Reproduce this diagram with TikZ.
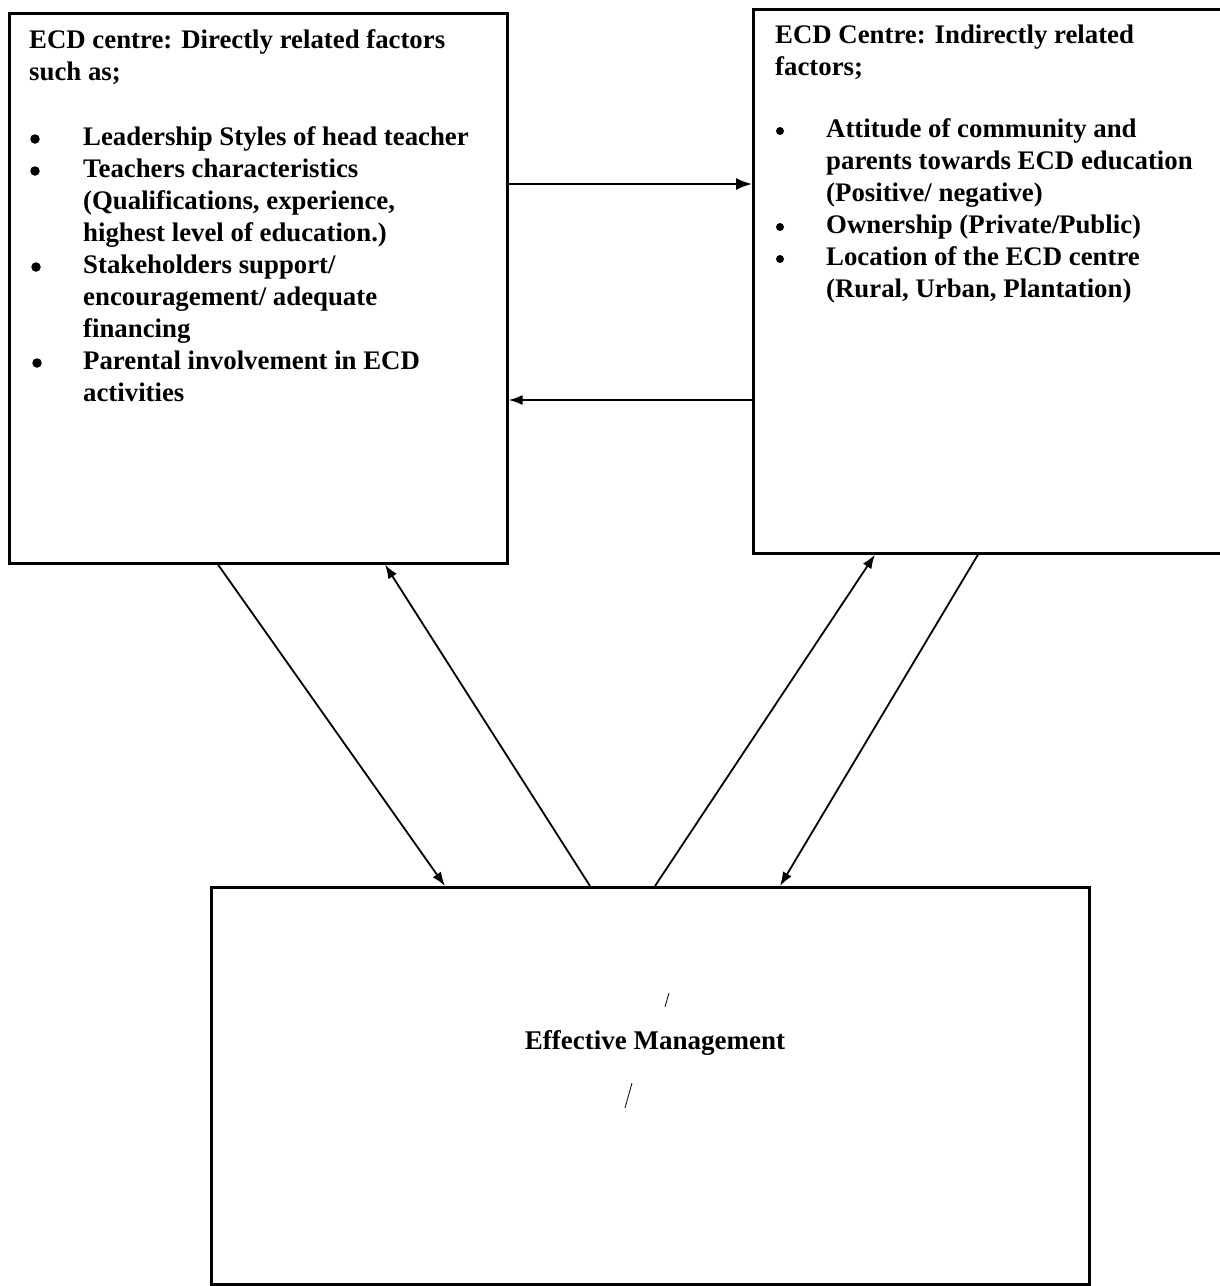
\documentclass[tikz,border=0pt]{standalone}
\usepackage{fontspec}
\setmainfont{Liberation Serif}
\usetikzlibrary{arrows.meta,calc}
\begin{document}
\begin{tikzpicture}[x=1pt,y=-1pt,
  box/.style={draw,line width=2.6pt,inner sep=0pt,rectangle,anchor=north west},
  txt/.style={anchor=base west,inner sep=0pt,font=\fontsize{26.8}{32}\selectfont\bfseries},
  bigdot/.style={circle,fill,inner sep=0pt,minimum size=9.5pt},
  smalldot/.style={circle,fill,inner sep=0pt,minimum size=8pt},
  conn/.style={line width=1.8pt},
  tip/.style={-{Latex[length=16pt,width=12pt]}},
  stip/.style={-{Latex[length=14pt,width=10pt]}},
  penmark/.style={line width=0.8pt}]
\fill[white] (0,0) rectangle (1220,1286);
\useasboundingbox (0,0) rectangle (1220,1286);

% boxes
\node[box, minimum width=498pt, minimum height=550pt] (L) at (8,12) {};
\node[box, minimum width=500pt, minimum height=544pt] (R) at (752,8) {};
\node[box, minimum width=878pt, minimum height=397pt] (M) at (210,886) {};

% left box text
\node[txt] (l1) at (29,48) {ECD centre: Directly related factors};
\node[txt] (l2) at (29,80) {such as;};
\node[txt] (l3) at (83,145) {Leadership Styles of head teacher};
\node[txt] (l4) at (83,177) {Teachers characteristics};
\node[txt] (l5) at (83,209) {(Qualifications, experience,};
\node[txt] (l6) at (83,241) {highest level of education.)};
\node[txt] (l7) at (83,273) {Stakeholders support/};
\node[txt] (l8) at (83,305) {encouragement/ adequate};
\node[txt] (l9) at (83,337) {financing};
\node[txt] (l10) at (83,369) {Parental involvement in ECD};
\node[txt] (l11) at (83,401) {activities};
\node[bigdot] (lb1) at (35,139) {};
\node[bigdot] (lb2) at (35,171) {};
\node[bigdot] (lb3) at (36,267) {};
\node[bigdot] (lb4) at (37,363) {};

% right box text
\node[txt] (r1) at (775,43) {ECD Centre: Indirectly related};
\node[txt] (r2) at (775,75) {factors;};
\node[txt] (r3) at (826,137) {Attitude of community and};
\node[txt] (r4) at (826,169) {parents towards ECD education};
\node[txt] (r5) at (826,201) {(Positive/ negative)};
\node[txt] (r6) at (826,233) {Ownership (Private/Public)};
\node[txt] (r7) at (826,265) {Location of the ECD centre};
\node[txt] (r8) at (826,297) {(Rural, Urban, Plantation)};
\node[smalldot] (rb1) at (780,131) {};
\node[smalldot] (rb2) at (780,227) {};
\node[smalldot] (rb3) at (780,259) {};

% bottom box text
\node[anchor=base,inner sep=0pt,font=\fontsize{27}{32}\selectfont\bfseries] (t) at (655,1049) {Effective Management};
\coordinate (m1a) at (665,1007); \coordinate (m1b) at (669,993);
\coordinate (m2a) at (625,1108); \coordinate (m2b) at (632,1083);
\draw[penmark] (m1a) -- (m1b);
\draw[penmark] (m2a) -- (m2b);

% connectors
\draw[conn,tip] (L.east |- 0,184) -- (R.west |- 0,184);
\draw[conn,stip] (R.west |- 0,400) -- (L.east |- 0,400);
\draw[conn,stip] ([xshift=210pt]L.south west) -- ([xshift=235pt]M.north west);
\draw[conn,stip] ([xshift=380pt]M.north west) -- ([xshift=377pt]L.south west);
\draw[conn,stip] ([xshift=445pt]M.north west) -- ([xshift=123pt]R.south west);
\draw[conn,stip] ([xshift=226pt]R.south west) -- ([xshift=570pt]M.north west);
\end{tikzpicture}
\end{document}
